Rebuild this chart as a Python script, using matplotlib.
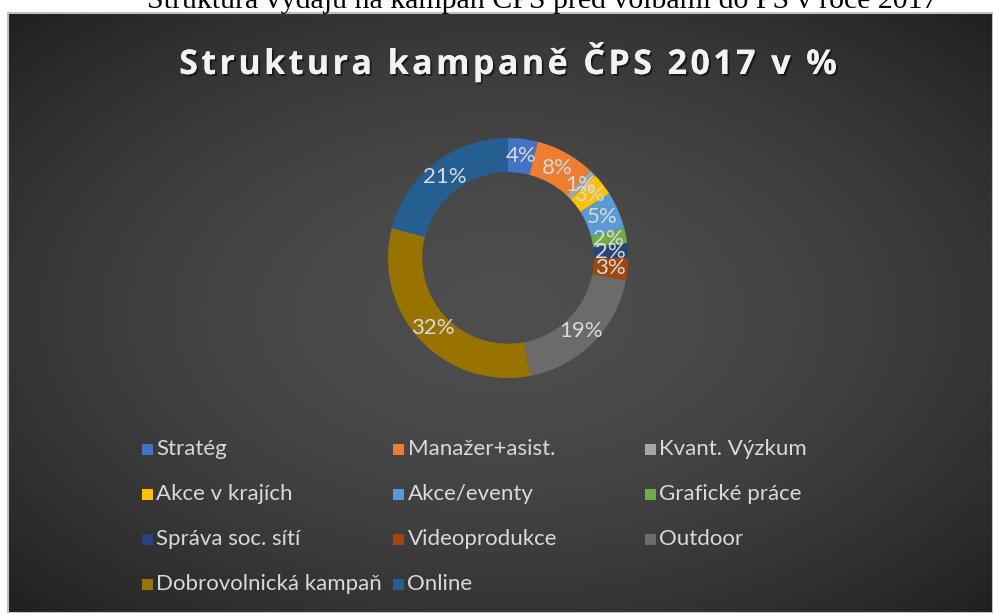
import numpy as np
import matplotlib
matplotlib.use("Agg")
import matplotlib.pyplot as plt
import matplotlib.patheffects as pe
from matplotlib.patches import Rectangle

# data
categories = ["Stratég", "Manažer+asist.", "Kvant. Výzkum", "Akce v krajích",
              "Akce/eventy", "Grafické práce", "Správa soc. sítí", "Videoprodukce",
              "Outdoor", "Dobrovolnická kampaň", "Online"]
shares = [4, 8, 1, 3, 5, 2, 2, 3, 19, 32, 21]
colors = ["#4472C4", "#ED7D31", "#A5A5A5", "#FFC000", "#5B9BD5", "#70AD47",
          "#264478", "#9E480E", "#6b6b6b", "#997300", "#255E91"]

caption = "Struktura výdajů na kampaň ČPS před volbami do PS v roce 2017"
title = "Struktura kampaně ČPS 2017 v %"

W, H = 993, 613
fig = plt.figure(figsize=(W / 100, H / 100), dpi=100)
fig.patch.set_facecolor("white")

# dark gradient panel
px0, py0 = 8, 13  # panel top-left in pixels
bg = fig.add_axes([px0 / W, 0, 1 - px0 / W, 1 - py0 / H])
bg.set_axis_off()
gx, gy = np.meshgrid(np.linspace(-1, 1, 400), np.linspace(-1, 1, 300))
d = np.sqrt(gx ** 2 + gy ** 2) / np.sqrt(2)
shade = 0.305 - 0.18 * np.clip(d, 0, 1) ** 1.7
img = np.dstack([shade, shade, shade])
bg.imshow(img, extent=[0, 1, 0, 1], aspect="auto", interpolation="bilinear")
bg.set_xlim(0, 1)
bg.set_ylim(0, 1)
bg.add_patch(Rectangle((0, 0), 1, 1, fill=False, edgecolor="#bfbfbf", lw=1.5,
                       transform=bg.transAxes, clip_on=False))

# caption cut off at the top edge
fig.text(542 / W, 1 - 7.5 / H, caption, ha="center", va="baseline",
         fontsize=21.5, family="Liberation Serif", color="black")

# title, spaced out with hair spaces
spaced = "\u200a".join(title)
fig.text(507 / W, 1 - 62 / H, spaced, ha="center", va="center",
         fontsize=24.5, family=["Open Sans", "DejaVu Sans"], fontweight="bold",
         color="#f2f2f2",
         path_effects=[pe.withSimplePatchShadow(offset=(1.5, -1.5),
                                                shadow_rgbFace="black", alpha=0.5),
                       pe.Normal()])

# donut
cx, cy, r = 508, 258, 120
ax = fig.add_axes([(cx - r) / W, 1 - (cy + r) / H, 2 * r / W, 2 * r / H])
wedges, _, autotexts = ax.pie(shares, colors=colors, startangle=90, counterclock=False,
                              radius=1, autopct="%.0f%%", pctdistance=0.855,
                              wedgeprops=dict(width=0.285, edgecolor="none"),
                              textprops=dict(color="#d9d9d9", fontsize=16, family="Lato"))
ax.set_xlim(-1, 1)
ax.set_ylim(-1, 1)
ax.set_axis_off()

# legend, filled row by row
lx0, ly0, ldx, ldy = 147, 449, 251.5, 45
for i, (name, col) in enumerate(zip(categories, colors)):
    row, c = divmod(i, 3)
    x = lx0 + c * ldx
    y = ly0 + row * ldy
    fig.patches.append(Rectangle(((x - 5.5) / W, 1 - (y + 5.5) / H), 11 / W, 11 / H,
                                 facecolor=col, edgecolor="none",
                                 transform=fig.transFigure, figure=fig))
    fig.text((x + 9) / W, 1 - y / H, name, ha="left", va="center",
             fontsize=16, family="Lato", color="#d9d9d9")

fig.savefig("out.png", dpi=100, facecolor=fig.get_facecolor())
